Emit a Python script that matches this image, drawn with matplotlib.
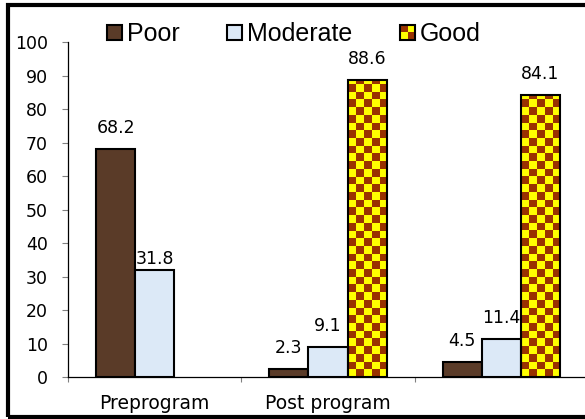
import numpy as np
import matplotlib
matplotlib.use("Agg")
import matplotlib.pyplot as plt
from matplotlib.patches import Rectangle
from matplotlib.colors import ListedColormap
from matplotlib.legend_handler import HandlerBase

plt.rcParams["font.family"] = ["DejaVu Sans"]

# Data
groups = ["Preprogram", "Post program", ""]
series = ["Poor", "Moderate", "Good"]
poor = [68.2, 2.3, 4.5]
moderate = [31.8, 9.1, 11.4]
good = [np.nan, 88.6, 84.1]
yticks = [0, 10, 20, 30, 40, 50, 60, 70, 80, 90, 100]

W, H, DPI = 585, 419, 100
fig = plt.figure(figsize=(W / DPI, H / DPI), dpi=DPI)
ax = fig.add_axes([68 / W, 1 - 377 / H, 520 / W, 335 / H])

x = np.arange(len(groups))
bw = 0.2254
poor_color = "#5a3b28"
mod_color = "#dce9f7"
check_a, check_b = "#ffff00", "#993300"

b_poor = ax.bar(x - bw, poor, bw, color=poor_color, edgecolor="black", linewidth=1.5, zorder=3)
b_mod = ax.bar(x, moderate, bw, color=mod_color, edgecolor="black", linewidth=1.5, zorder=3)
b_good = ax.bar(x + bw, good, bw, facecolor="none", edgecolor="black", linewidth=1.5, zorder=3)

# checkerboard fill for the "Good" bars
cell_h = 2.3
checker_cmap = ListedColormap([check_a, check_b])
for rect in b_good:
    h = rect.get_height()
    if not np.isfinite(h) or h <= 0:
        continue
    x0 = rect.get_x()
    ny = int(np.ceil(h / cell_h))
    nx = 5
    grid = (np.add.outer(np.arange(ny), np.arange(nx)) % 2).astype(float)
    im = ax.imshow(grid, cmap=checker_cmap, origin="lower", interpolation="nearest",
                   extent=(x0, x0 + bw, 0, ny * cell_h), aspect="auto", zorder=2.5)
    im.set_clip_path(Rectangle((x0, 0), bw, h, transform=ax.transData))

ax.set_xlim(-0.5, 2.5)
ax.set_ylim(0, 100)

# value labels
for bars, vals in ((b_poor, poor), (b_mod, moderate), (b_good, good)):
    for rect, v in zip(bars, vals):
        if not np.isfinite(v):
            continue
        off = 5 if v == 31.8 else 11.5
        ax.annotate(f"{v:.1f}", (rect.get_x() + rect.get_width() / 2, v),
                    xytext=(0, off), textcoords="offset points",
                    ha="center", va="baseline", fontsize=12.5, zorder=4)

# axes styling
for s in ("top", "right"):
    ax.spines[s].set_visible(False)
ax.spines["left"].set_linewidth(0.9)
ax.spines["bottom"].set_linewidth(0.9)
ax.set_yticks(yticks)
ax.tick_params(axis="y", direction="out", length=4.5, width=0.8, color="#808080",
               labelsize=12.5, pad=10)
ax.set_xticks(x)
ax.set_xticklabels(groups)
ax.tick_params(axis="x", which="major", length=0, labelsize=13.5, pad=12)
ax.set_xticks([-0.5, 0.5, 1.5, 2.5], minor=True)
ax.tick_params(axis="x", which="minor", direction="out", length=3.5, width=0.8, color="#808080")


# legend with a checkered key for "Good"
class CheckerHandler(HandlerBase):
    def create_artists(self, legend, orig_handle, xdescent, ydescent, width, height,
                       fontsize, trans):
        s = min(width, height)
        x0, y0 = -xdescent, -ydescent + (height - s) / 2
        arts = []
        for i in range(2):
            for j in range(2):
                c = check_b if (i + j) % 2 == 0 else check_a
                arts.append(Rectangle((x0 + j * s / 2, y0 + (1 - i) * s / 2), s / 2, s / 2,
                                      facecolor=c, edgecolor="none", transform=trans))
        arts.append(Rectangle((x0, y0), s, s, facecolor="none", edgecolor="black",
                              linewidth=1.5, transform=trans))
        return arts


class SquareHandler(HandlerBase):
    def create_artists(self, legend, orig_handle, xdescent, ydescent, width, height,
                       fontsize, trans):
        s = min(width, height)
        return [Rectangle((-xdescent, -ydescent + (height - s) / 2), s, s,
                          facecolor=orig_handle.get_facecolor(), edgecolor="black",
                          linewidth=1.5, transform=trans)]


h_poor = Rectangle((0, 0), 1, 1, facecolor=poor_color)
h_mod = Rectangle((0, 0), 1, 1, facecolor=mod_color)
h_good = Rectangle((0, 0), 1, 1, facecolor=check_a)
fig.legend([h_poor, h_mod, h_good], series, loc="center left",
           bbox_to_anchor=(107 / W, 1 - 34 / H), ncol=3, frameon=False,
           prop={"family": "Liberation Sans", "size": 18},
           handlelength=0.6, handleheight=0.6, handletextpad=0.2, columnspacing=1.9,
           borderpad=0, borderaxespad=0,
           handler_map={h_poor: SquareHandler(), h_mod: SquareHandler(),
                        h_good: CheckerHandler()})

# outer frame
fig.add_artist(Rectangle((8 / W, 2 / H), 1.2, 1 - 7 / H, transform=fig.transFigure,
                         fill=False, edgecolor="black", linewidth=3, clip_on=False))

fig.savefig("out.png", dpi=DPI)
